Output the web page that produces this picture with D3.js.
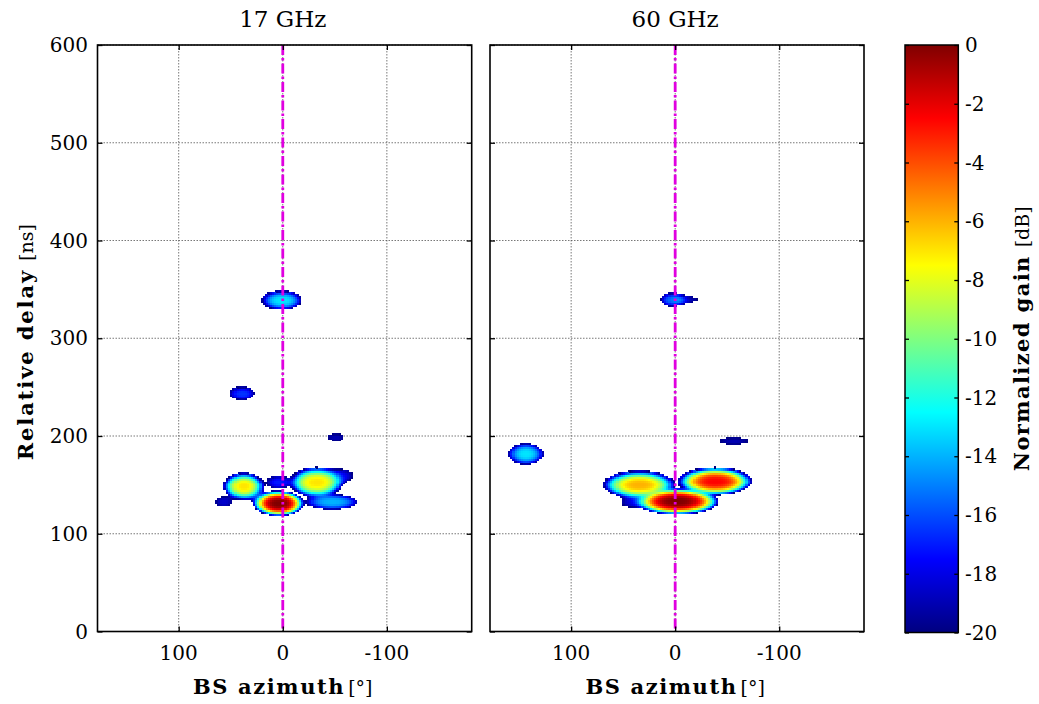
<!DOCTYPE html>
<html><head><meta charset="utf-8">
<script src="https://cdn.jsdelivr.net/npm/d3@7"></script>
<style>
body{margin:0;background:#fff}
svg{display:block}
text{font-family:"DejaVu Serif",serif;fill:#000}
</style>
</head><body>
<svg id="chart" width="1039" height="704"></svg>
<script>
// ---------------- data ----------------
const panelTitles = ["17 GHz", "60 GHz"];
const xTickValues = [100, 0, -100];
const xTickLabels = ["100", "0", "-100"];
const yTickValues = [0, 100, 200, 300, 400, 500, 600];
const colorTickValues = [0, -2, -4, -6, -8, -10, -12, -14, -16, -18, -20];
const azDomain = [178, -181.5];
const delayDomain = [0, 600];
const gainDomain = [-20, 0];
const jetColors = ["#000080", "#0000ff", "#00ffff", "#ffff00", "#ff0000", "#800000"];
const jetGains = [-20, -17.5, -12.5, -7.5, -2.5, 0];

// 17 GHz clusters (azimuth deg, delay ns, peak dB, azimuth half-extent, delay half-extent)
const az17      = [1.5, 39.5, -50.5, 38, -32, 4.5, -47, 57, 4.5, 20, -55];
const delay17   = [339.5, 244, 199, 149, 153, 131.5, 133, 133, 153, 137, 160];
const peak17    = [-13, -16.5, -19, -7, -7, 0, -14, -18.5, -17, -18.5, -18];
const azHalf17  = [19, 12, 7.5, 19, 25, 24, 25, 8, 11, 9, 12];
const dlHalf17  = [9, 6.5, 3.5, 13.5, 15, 12.5, 7.5, 5, 6.5, 5, 6];

// 60 GHz clusters
const az60      = [3, -12, 144, -56, 35, -38, -1.5, 43];
const delay60   = [340, 340, 182, 195, 150.5, 154, 133.5, 132.5];
const peak60    = [-15.5, -19, -13, -19, -6, -2.5, 0, -18.5];
const azHalf60  = [11, 8, 17, 13.5, 34, 35, 40, 9];
const dlHalf60  = [6.5, 3, 10.5, 3.5, 14, 14, 13, 4.5];

// ---------------- layout ----------------
const svg = d3.select("#chart");
svg.append("rect").attr("width", 1039).attr("height", 704).attr("fill", "#fff");
const plotTop = 45, plotBottom = 631.5;
const panelX = [[97.5, 471.7], [490, 864]];
const yScale = d3.scaleLinear().domain(delayDomain).range([plotBottom, plotTop]);
const color = d3.scaleLinear().domain(jetGains).range(jetColors).clamp(true);

const panels = [
  {title: panelTitles[0], az: az17, dl: delay17, pk: peak17, ra: azHalf17, rd: dlHalf17},
  {title: panelTitles[1], az: az60, dl: delay60, pk: peak60, ra: azHalf60, rd: dlHalf60}
];

const stepAz = 2, stepDl = 2, shapeExp = 3;

panels.forEach((p, pi) => {
  const xScale = d3.scaleLinear().domain(azDomain).range(panelX[pi]);
  const g = svg.append("g");
  const clipId = "clip" + pi;
  svg.append("clipPath").attr("id", clipId).append("rect")
    .attr("x", panelX[pi][0]).attr("y", plotTop)
    .attr("width", panelX[pi][1] - panelX[pi][0]).attr("height", plotBottom - plotTop);

  // grid
  const grid = g.append("g").attr("stroke", "#555").attr("stroke-width", 0.8).attr("stroke-dasharray", "1.5,1.5");
  xTickValues.forEach(v => grid.append("line")
    .attr("x1", xScale(v)).attr("x2", xScale(v)).attr("y1", plotTop).attr("y2", plotBottom));
  yTickValues.forEach(v => grid.append("line")
    .attr("x1", panelX[pi][0]).attr("x2", panelX[pi][1]).attr("y1", yScale(v)).attr("y2", yScale(v)));

  // cells
  const cells = [];
  for (let a = -180; a <= 180; a += stepAz) {
    for (let d = 0; d <= 600; d += stepDl) {
      let s = 0;
      for (let i = 0; i < p.az.length; i++) {
        const r = Math.sqrt(((a - p.az[i]) / p.ra[i]) ** 2 + ((d - p.dl[i]) / p.rd[i]) ** 2);
        if (r > 3) continue;
        const db = p.pk[i] - (20 + p.pk[i]) * Math.pow(r, shapeExp);
        s += Math.pow(10, db / 10);
      }
      if (s > 0) {
        const v = 10 * Math.log10(s);
        if (v >= -20) cells.push({a, d, v: Math.min(v, 0)});
      }
    }
  }
  g.append("g").attr("clip-path", `url(#${clipId})`).attr("shape-rendering", "crispEdges")
    .selectAll("rect").data(cells).join("rect")
    .attr("x", c => xScale(c.a + stepAz / 2))
    .attr("width", c => xScale(c.a - stepAz / 2) - xScale(c.a + stepAz / 2) + 0.6)
    .attr("y", c => yScale(c.d + stepDl / 2))
    .attr("height", c => yScale(c.d - stepDl / 2) - yScale(c.d + stepDl / 2) + 0.6)
    .attr("fill", c => color(c.v));

  // magenta line at 0 deg
  g.append("line").attr("x1", xScale(0)).attr("x2", xScale(0)).attr("y1", plotTop).attr("y2", plotBottom)
    .attr("stroke", "#e000e0").attr("stroke-width", 2.8).attr("stroke-dasharray", "10,3,2.5,3");

  // axes (ticks inward on all sides)
  const tl = 5;
  g.append("g").attr("transform", `translate(0,${plotBottom})`)
    .call(d3.axisBottom(xScale).tickValues(xTickValues).tickSize(-tl).tickFormat("").tickSizeOuter(0))
    .call(s => s.select(".domain").remove());
  g.append("g").attr("transform", `translate(0,${plotTop})`)
    .call(d3.axisTop(xScale).tickValues(xTickValues).tickSize(-tl).tickFormat("").tickSizeOuter(0))
    .call(s => s.select(".domain").remove());
  g.append("g").attr("transform", `translate(${panelX[pi][0]},0)`)
    .call(d3.axisLeft(yScale).tickValues(yTickValues).tickSize(-tl).tickFormat("").tickSizeOuter(0))
    .call(s => s.select(".domain").remove());
  g.append("g").attr("transform", `translate(${panelX[pi][1]},0)`)
    .call(d3.axisRight(yScale).tickValues(yTickValues).tickSize(-tl).tickFormat("").tickSizeOuter(0))
    .call(s => s.select(".domain").remove());
  g.selectAll(".tick line").attr("stroke", "#000").attr("stroke-width", 1.3);

  // box
  g.append("rect").attr("x", panelX[pi][0]).attr("y", plotTop)
    .attr("width", panelX[pi][1] - panelX[pi][0]).attr("height", plotBottom - plotTop)
    .attr("fill", "none").attr("stroke", "#000").attr("stroke-width", 1.6);

  // x tick labels
  g.selectAll(".xl").data(xTickValues).join("text")
    .attr("x", v => xScale(v)).attr("y", 660).attr("text-anchor", "middle")
    .attr("font-size", 20).text((v, i) => xTickLabels[i]);

  // y tick labels (left panel only)
  if (pi === 0) {
    g.selectAll(".yl").data(yTickValues).join("text")
      .attr("x", 88).attr("y", v => yScale(v)).attr("dy", "0.36em").attr("text-anchor", "end")
      .attr("font-size", 20).text(v => v);
  }

  // title
  g.append("text").attr("x", xScale(0)).attr("y", 27).attr("text-anchor", "middle")
    .attr("font-size", 23).text(p.title);

  // x label
  const xl = g.append("text").attr("x", xScale(0)).attr("y", 694).attr("text-anchor", "middle").attr("font-size", 21);
  xl.append("tspan").attr("font-weight", "bold").attr("letter-spacing", 1.6).text("BS azimuth");
  xl.append("tspan").attr("font-size", 19).attr("dx", 3).text("[°]");
});

// y label
const ylab = svg.append("text").attr("transform", `translate(33,${(plotTop + plotBottom) / 2 + 4}) rotate(-90)`)
  .attr("text-anchor", "middle").attr("font-size", 21);
ylab.append("tspan").attr("font-weight", "bold").attr("letter-spacing", 1.9).text("Relative delay");
ylab.append("tspan").attr("font-size", 19).attr("dx", 8).text("[ns]");

// ---------------- colorbar ----------------
const cbX0 = 905, cbX1 = 958.3, cbTop = 45, cbBottom = 632.5;
const cbScale = d3.scaleLinear().domain(gainDomain).range([cbBottom, cbTop]);
const grad = svg.append("defs").append("linearGradient").attr("id", "jet")
  .attr("x1", 0).attr("y1", 1).attr("x2", 0).attr("y2", 0);
jetGains.forEach((gv, i) => grad.append("stop")
  .attr("offset", (gv - gainDomain[0]) / (gainDomain[1] - gainDomain[0]))
  .attr("stop-color", jetColors[i]));
svg.append("rect").attr("x", cbX0).attr("y", cbTop).attr("width", cbX1 - cbX0).attr("height", cbBottom - cbTop)
  .attr("fill", "url(#jet)").attr("stroke", "#000").attr("stroke-width", 1.5);
const cbg = svg.append("g");
cbg.append("g").attr("transform", `translate(${cbX0},0)`)
  .call(d3.axisLeft(cbScale).tickValues(colorTickValues).tickSize(-4).tickFormat("").tickSizeOuter(0))
  .call(s => s.select(".domain").remove());
cbg.append("g").attr("transform", `translate(${cbX1},0)`)
  .call(d3.axisRight(cbScale).tickValues(colorTickValues).tickSize(-4).tickFormat("").tickSizeOuter(0))
  .call(s => s.select(".domain").remove());
cbg.selectAll(".tick line").attr("stroke", "#000").attr("stroke-width", 1.3);
svg.selectAll(".cbl").data(colorTickValues).join("text")
  .attr("x", 965).attr("y", v => cbScale(v)).attr("dy", "0.36em").attr("font-size", 20)
  .text(v => v);

const clab = svg.append("text").attr("transform", `translate(1029,${(cbTop + cbBottom) / 2}) rotate(-90)`)
  .attr("text-anchor", "middle").attr("font-size", 21);
clab.append("tspan").attr("font-weight", "bold").attr("letter-spacing", 1.4).text("Normalized gain");
clab.append("tspan").attr("font-size", 19).attr("dx", 8).text("[dB]");
</script>
</body></html>
